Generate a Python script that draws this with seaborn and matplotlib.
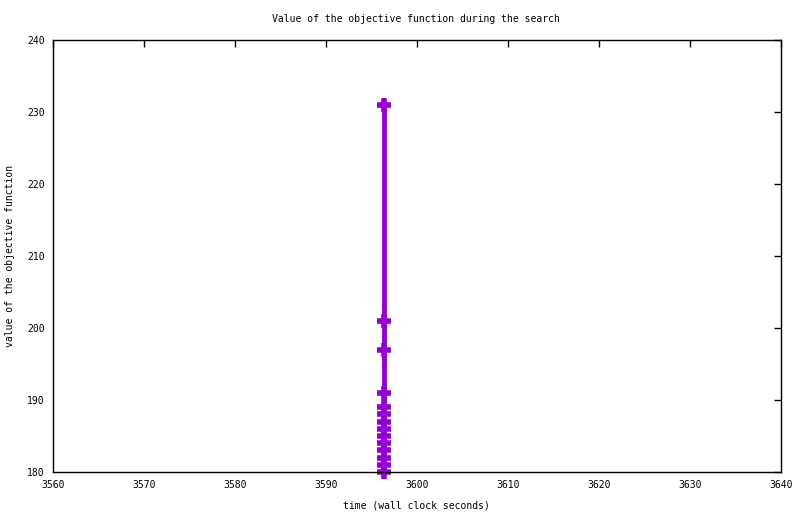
import matplotlib
matplotlib.use("Agg")
import matplotlib.pyplot as plt
import seaborn as sns
import pandas as pd

times = [3596.4] * 14
values = [231, 201, 197, 191, 189, 188, 187, 186, 185, 184, 183, 182, 181, 180]

df = pd.DataFrame({"time": times, "value": values})

sns.set_style("white")
plt.rcParams['font.family'] = ['DejaVu Sans Mono', 'DejaVu Sans']
plt.rcParams['text.color'] = 'black'

fig = plt.figure(figsize=(8.0, 5.14), dpi=100)
ax = fig.add_axes([53/800, 1 - 472/514, (781-53)/800, (472-40)/514])

color = "#9400D3"
sns.lineplot(data=df, x="time", y="value", ax=ax, color=color, linewidth=3.5,
             sort=False, estimator=None)
ax.plot(df["time"], df["value"], linestyle="none", marker="+", markersize=10,
        markeredgewidth=4, color=color, clip_on=False)

ax.set_xlim(3560, 3640)
ax.set_ylim(180, 240)
ax.set_xticks(range(3560, 3641, 10))
ax.set_yticks(range(180, 241, 10))
ax.tick_params(direction="in", length=5, width=1, top=True, right=True,
               labelsize=7, colors="black", pad=6)
for s in ax.spines.values():
    s.set_visible(True)
    s.set_color("black")
    s.set_linewidth(1)

ax.set_xlabel("time (wall clock seconds)", fontsize=7, color="black")
ax.xaxis.set_label_coords((416-53)/728, -(500-472)/432)
ax.set_ylabel("value of the objective function", fontsize=7, color="black")
ax.yaxis.set_label_coords(-(53-15)/728, (472-256)/432)
fig.text(416/800, 1 - 19/514, "Value of the objective function during the search",
         ha="center", va="center", fontsize=7, color="black")

fig.savefig("out.png", dpi=100)
